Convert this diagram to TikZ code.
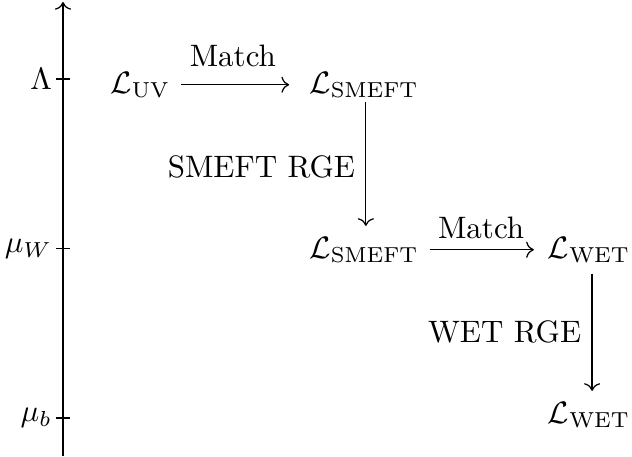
\documentclass[tikz,border=0pt]{standalone}
\usetikzlibrary{arrows.meta}
\begin{document}
\begin{tikzpicture}[x=0.3226pt,y=-0.3226pt,
  lag/.style={anchor=base,inner sep=3.33pt},
  scalelab/.style={anchor=east,inner sep=1pt},
  flow/.style={-{Computer Modern Rightarrow}},
  tick/.style={line width=0.4pt}]
\useasboundingbox (0,0) rectangle (632,456);

% energy-scale axis
\coordinate (axbot) at (63,456);
\coordinate (axtop) at (63,2);
\draw[flow] (axbot) -- (axtop);

% scale ticks and their labels
\coordinate (kL) at (63,79);
\coordinate (kW) at (63,248.7);
\coordinate (kb) at (63,418);
\foreach \k in {kL,kW,kb}
  \draw[tick] ([xshift=-2.4pt]\k) -- ([xshift=2.4pt]\k);
\node[scalelab] (sL) at ([xshift=-2.4pt]kL) {$\Lambda$};
\node[scalelab] (sW) at ([xshift=-2.4pt]kW) {$\mu_W$};
\node[scalelab] (sb) at ([xshift=-2.4pt]kb) {$\mu_b$};

% Lagrangians at each scale
\node[lag] (uv)   at (140.5,93)  {$\mathcal{L}_{\mathrm{UV}}$};
\node[lag] (sm1)  at (364,93)    {$\mathcal{L}_{\mathrm{SMEFT}}$};
\node[lag] (sm2)  at (364,258)   {$\mathcal{L}_{\mathrm{SMEFT}}$};
\node[lag] (wet1) at (589,258)   {$\mathcal{L}_{\mathrm{WET}}$};
\node[lag] (wet2) at (589,423)   {$\mathcal{L}_{\mathrm{WET}}$};

% matching steps
\draw[flow,shorten >=3pt] (uv) -- node[above=2.2pt,pos=0.44] {Match} (sm1);
\draw[flow,shorten >=1pt] (sm2) -- node[above=0pt,pos=0.48] {Match} (wet1);

% running steps
\draw[flow,shorten <=-2pt] ([xshift=0.6pt]sm1.south) -- node[left] {SMEFT RGE} ([xshift=0.6pt]sm2.north);
\draw[flow] ([xshift=1pt]wet1.south) -- node[left] {WET RGE} ([xshift=1pt]wet2.north);
\end{tikzpicture}
\end{document}
